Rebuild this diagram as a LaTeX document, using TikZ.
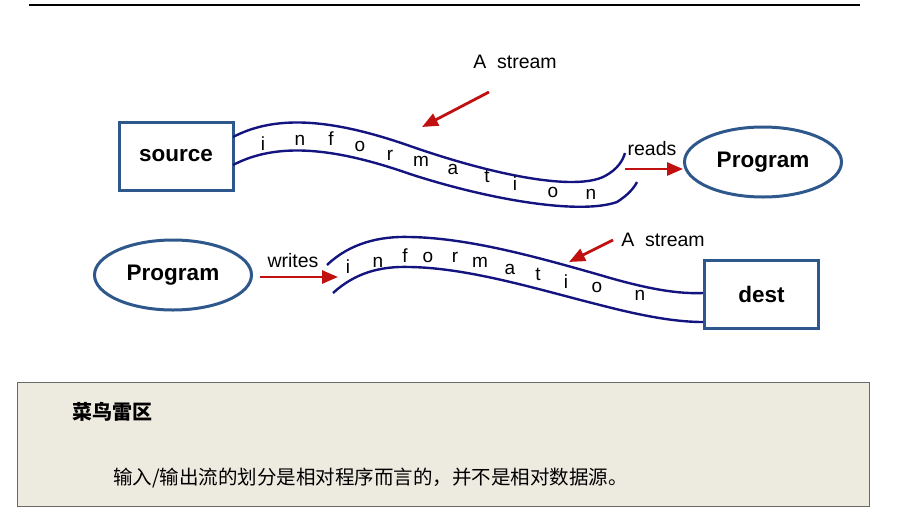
\documentclass[tikz,border=0pt]{standalone}
\usepackage{fontspec}
\setmainfont{Liberation Sans}
\newfontfamily\cjk{Noto Sans CJK SC}
\usepackage{tikz}
\usetikzlibrary{arrows.meta,shapes.geometric}
\definecolor{boxblue}{RGB}{46,88,140}
\definecolor{pipenavy}{RGB}{20,20,128}
\definecolor{arrowred}{RGB}{192,16,16}
\definecolor{notefill}{RGB}{237,234,224}
\definecolor{noteline}{RGB}{105,105,105}
\tikzset{
  box/.style={draw=boxblue, line width=3pt, minimum width=114pt, minimum height=68pt, inner sep=0pt, font=\fontsize{22.5}{26}\selectfont\bfseries},
  prog/.style={draw=boxblue, ellipse, line width=3pt, minimum width=157pt, minimum height=70pt, inner sep=0pt, font=\fontsize{22.5}{26}\selectfont\bfseries},
  pipe/.style={draw=pipenavy, line width=2.4pt},
  arrow/.style={-{Triangle[length=16pt,width=13pt]}, line width=2.8pt, draw=arrowred},
  lbl/.style={font=\fontsize{19.5}{22}\selectfont, inner sep=0pt},
  letter/.style={font=\fontsize{19}{20}\selectfont, anchor=base, inner sep=0pt},
  notebox/.style={draw=noteline, fill=notefill, line width=1.5pt, minimum width=852pt, minimum height=124pt, inner sep=0pt}
}

\begin{document}
\begin{tikzpicture}[x=1pt,y=-1pt]
  \useasboundingbox (0,0) rectangle (902,512);
  \draw[line width=2.2pt] (29,5) -- (860,5);
  % read side
  \node[box] (source) at (176,156) {source};
  \node[prog] (progR) at (763,162) {Program};
  \draw[pipe] (233,137) .. controls (275,115) and (330,118) .. (410,146)
    .. controls (490,174) and (575,192) .. (605,176)
    .. controls (618,169) and (623,160) .. (625,153);
  \draw[pipe] (233,165) .. controls (275,143) and (330,146) .. (410,174)
    .. controls (490,200) and (580,215) .. (617,202)
    .. controls (628,195) and (634,188) .. (637,182);
  \foreach \ch/\px/\py [count=\k] in {i/263/150, n/300/145, f/331/145, o/360/151, r/390/160, m/421/166, a/453/174, t/487/182, i/515/190, o/553/197, n/591/199}
    \node[letter] (upch\k) at (\px,\py) {\ch};
  \node[lbl] (streamA) at (515,62) {A\ \ stream};
  \coordinate (streamAtail) at (489,92);
  \coordinate (streamAtip) at (422,127);
  \draw[arrow] (streamAtail) -- (streamAtip);
  \node[lbl] (reads) at (652,149) {reads};
  \coordinate (readsStart) at (625,169);
  \draw[arrow] (readsStart) -- (readsStart -| progR.west);
  % write side
  \node[prog] (progL) at (173,275) {Program};
  \node[box] (dest) at (761.5,294) {dest};
  \draw[pipe] (327,265) .. controls (350,243) and (380,236) .. (410,237)
    .. controls (470,238) and (540,258) .. (600,275)
    .. controls (650,290) and (680,294) .. (703,293);
  \draw[pipe] (333,293) .. controls (355,273) and (380,266) .. (410,267)
    .. controls (470,268) and (540,290) .. (600,305)
    .. controls (650,318) and (680,322) .. (703,322);
  \foreach \ch/\px/\py [count=\k] in {i/348/273, n/378/267, f/405/262, o/428/262, r/455/262, m/480/267, a/510/274, t/538/280, i/566/288, o/597/292, n/640/300}
    \node[letter] (lowch\k) at (\px,\py) {\ch};
  \node[lbl] (writes) at (293,261) {writes};
  \coordinate (writesTip) at (338,277);
  \draw[arrow] ([shift={(7,2)}]progL.east) -- (writesTip);
  \node[lbl] (streamB) at (663,240) {A\ \ stream};
  \coordinate (streamBtail) at (613,240);
  \coordinate (streamBtip) at (569,262);
  \draw[arrow] (streamBtail) -- (streamBtip);
  % note
  \node[notebox] (note) at (443.5,444.5) {};
  \node[anchor=west, inner sep=0pt, font=\fontsize{20}{24}\selectfont\cjk\bfseries] (noteTitle) at (72,412) {菜鸟雷区};
  \node[anchor=west, inner sep=0pt, font=\fontsize{19.5}{24}\selectfont\cjk] (noteText) at (113,478) {输入/输出流的划分是相对程序而言的，并不是相对数据源。};
\end{tikzpicture}
\end{document}
